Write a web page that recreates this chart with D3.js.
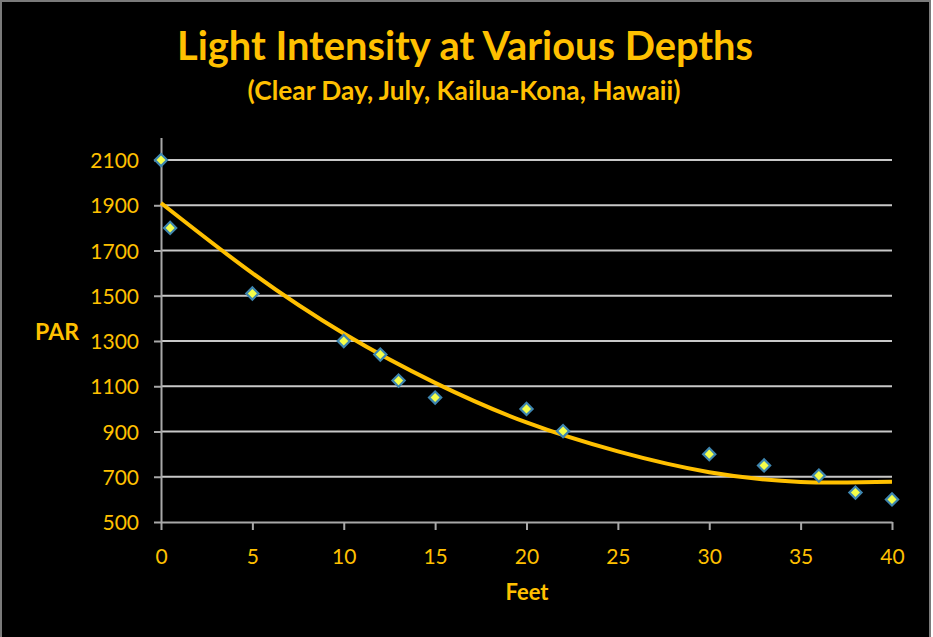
<!DOCTYPE html>
<html>
<head>
<meta charset="utf-8">
<script src="https://cdn.jsdelivr.net/npm/d3@7/dist/d3.min.js"></script>
<style>
  html, body { margin: 0; padding: 0; background: #ffffff; }
  svg { display: block; }
</style>
</head>
<body>
<svg id="chart" width="933" height="637"></svg>
<script>
// ---- Data ----
const depthFeet = [0, 0.5, 5, 10, 12, 13, 15, 20, 22, 30, 33, 36, 38, 40];
const parValues = [2100, 1800, 1510, 1300, 1240, 1125, 1050, 1000, 902, 800, 750, 705, 630, 600];
// Trendline (as drawn in the reference), read every 5 ft
const trendFeet = [0, 5, 10, 15, 20, 25, 30, 35, 40];
const trendPar  = [1910, 1600, 1333, 1115, 940, 812, 720, 677, 678];
const xTicks = [0, 5, 10, 15, 20, 25, 30, 35, 40];
const yTicks = [500, 700, 900, 1100, 1300, 1500, 1700, 1900, 2100];
const titleText = "Light Intensity at Various Depths";
const subtitleText = "(Clear Day, July, Kailua-Kona, Hawaii)";
const xLabel = "Feet";
const yLabel = "PAR";

const gold = "#ffc000";
const font = "Lato, 'Open Sans', sans-serif";

const svg = d3.select("#chart");

// frame
svg.append("rect").attr("x", 1).attr("y", 1).attr("width", 929).attr("height", 640)
  .attr("fill", "#000").attr("stroke", "#7a7a7a").attr("stroke-width", 2);

const x = d3.scaleLinear().domain([0, 40]).range([161, 892]);
const y = d3.scaleLinear().domain([500, 2200]).range([522, 137.4]);

function fit(sel, w) {
  const fs = parseFloat(sel.attr("font-size"));
  const len = sel.node().getComputedTextLength();
  sel.attr("font-size", (fs * w / len).toFixed(2));
}

// title
const t1 = svg.append("text").attr("x", 465).attr("y", 60).attr("text-anchor", "middle")
  .attr("font-family", font).attr("font-weight", "bold").attr("font-size", 34)
  .attr("fill", gold).text(titleText);
fit(t1, 576);
const t2 = svg.append("text").attr("x", 464).attr("y", 100).attr("text-anchor", "middle")
  .attr("font-family", font).attr("font-weight", "bold").attr("font-size", 22)
  .attr("fill", gold).text(subtitleText);
fit(t2, 433);

// gridlines
svg.append("g").selectAll("line").data(yTicks.filter(d => d > 500)).join("line")
  .attr("x1", x(0)).attr("x2", x(40)).attr("y1", d => y(d)).attr("y2", d => y(d))
  .attr("stroke", "#c8c8c8").attr("stroke-width", 2);

// y axis
const yAxis = svg.append("g").attr("transform", `translate(${x(0)},0)`)
  .call(d3.axisLeft(y).tickValues(yTicks).tickSize(7).tickSizeOuter(0).tickPadding(15).tickFormat(d3.format("d")));
yAxis.select(".domain").attr("stroke", "#a8a8a8").attr("stroke-width", 2);
yAxis.selectAll(".tick line").attr("stroke", "#a8a8a8").attr("stroke-width", 2);
yAxis.selectAll(".tick text").attr("fill", gold).attr("font-family", font)
  .attr("font-size", 21).attr("dy", "0.36em");

// x axis
const xAxis = svg.append("g").attr("transform", `translate(0,${y(500)})`)
  .call(d3.axisBottom(x).tickValues(xTicks).tickSize(8).tickSizeOuter(0).tickFormat(d3.format("d")));
xAxis.select(".domain").attr("stroke", "#a8a8a8").attr("stroke-width", 2);
xAxis.selectAll(".tick line").attr("stroke", "#a8a8a8").attr("stroke-width", 2);
xAxis.selectAll(".tick text").attr("fill", gold).attr("font-family", font)
  .attr("font-size", 21).attr("y", 42).attr("dy", 0);

// axis titles
svg.append("text").attr("x", 57).attr("y", 340).attr("text-anchor", "middle")
  .attr("font-family", font).attr("font-weight", "bold").attr("font-size", 23)
  .attr("fill", gold).text(yLabel);
const xl = svg.append("text").attr("x", 527).attr("y", 600).attr("text-anchor", "middle")
  .attr("font-family", font).attr("font-weight", "bold").attr("font-size", 18)
  .attr("fill", gold).text(xLabel);
fit(xl, 43);

// trendline
const line = d3.line().x(d => x(d[0])).y(d => y(d[1])).curve(d3.curveNatural);
svg.append("path").datum(trendFeet.map((f, i) => [f, trendPar[i]]))
  .attr("d", line).attr("fill", "none").attr("stroke", gold).attr("stroke-width", 4);

// markers
const sym = d3.symbol(d3.symbolSquare, 74);
svg.append("g").selectAll("path").data(depthFeet.map((f, i) => [f, parValues[i]])).join("path")
  .attr("d", sym)
  .attr("transform", d => `translate(${x(d[0])},${y(d[1])}) rotate(45)`)
  .attr("fill", "#f4ff4a").attr("stroke", "#3e86b0").attr("stroke-width", 2.2);
</script>
</body>
</html>
